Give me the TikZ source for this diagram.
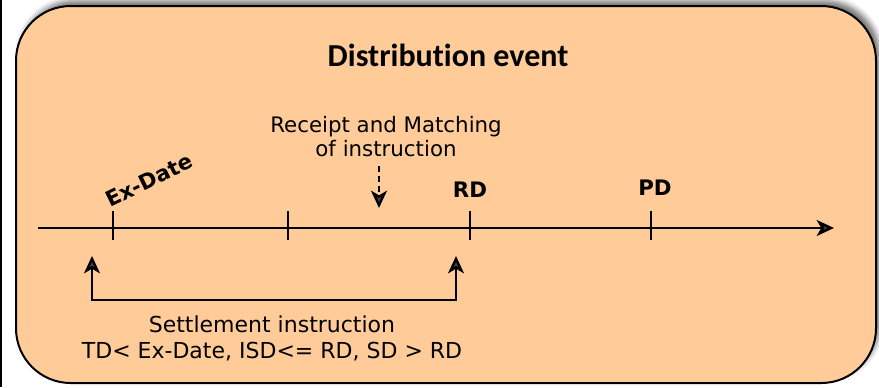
\documentclass[tikz,border=0pt]{standalone}
\usepackage{fontspec}
\setmainfont{DejaVu Sans}
\newfontfamily\titlefont[Ligatures=NoCommon]{Carlito}
\usetikzlibrary{arrows.meta, shadows.blur}
\definecolor{peach}{RGB}{255,204,153}
\tikzset{headtip/.tip={Stealth[length=13pt, width=12pt, inset=3.5pt]}}
\begin{document}
\begin{tikzpicture}[x=0.75pt, y=-0.75pt,
		txt/.style={font=\fontsize{16}{18}\selectfont, align=center, inner sep=0pt},
		settletxt/.style={font=\fontsize{16.5}{19.5}\selectfont, align=center, inner sep=0pt},
		datelabel/.style={font=\fontsize{16}{18}\selectfont\bfseries, inner sep=0pt}]
		\useasboundingbox (0,0) rectangle (879,387);
		\draw[line width=1pt] (1,0) -- (1,387);
		% the event box
		\draw[fill=peach, line width=1.5pt, rounded corners=41pt,
			blur shadow={shadow xshift=3pt, shadow yshift=4pt, shadow blur radius=4pt, shadow opacity=55}]
			(16,6) rectangle (876,383);
		\node[font=\titlefont\fontsize{24}{26}\selectfont\bfseries] (title) at (448,55) {Distribution event};
		% time line
		\coordinate (start) at (38,228);
		\coordinate (end) at (834,228);
		\draw[line width=2pt, -{headtip}] (start) -- (end);
		\foreach \x/\n in {113/exd, 288/mid, 470/rd, 651/pd}{
			\coordinate (\n) at (\x,228);
			\draw[line width=1.8pt] (\n) ++(0,-17) -- ++(0,29);
		}
		\node[datelabel, rotate=26] (exdate) at (149,180) {Ex-Date};
		\node[datelabel] (rdlabel) at (470,190) {RD};
		\node[datelabel] (pdlabel) at (655,188) {PD};
		% receipt and matching
		\node[txt] (receipt) at (386,137) {Receipt and Matching\\of instruction};
		\coordinate (hitfrom) at (379,166);
		\coordinate (hit) at (379,208);
		\draw[line width=1.8pt, dash pattern=on 4.5pt off 3pt, -{headtip}] (hitfrom) -- (hit);
		% settlement instruction
		\coordinate (exsi) at (92,256);
		\coordinate (rdsi) at (456,256);
		\draw[line width=1.8pt, {headtip}-{headtip}] (exsi) -- ++(0,44) -| (rdsi);
		\node[settletxt] (settle) at (272,338) {Settlement instruction\\TD< Ex-Date, ISD<= RD, SD > RD};
	\end{tikzpicture}
\end{document}
